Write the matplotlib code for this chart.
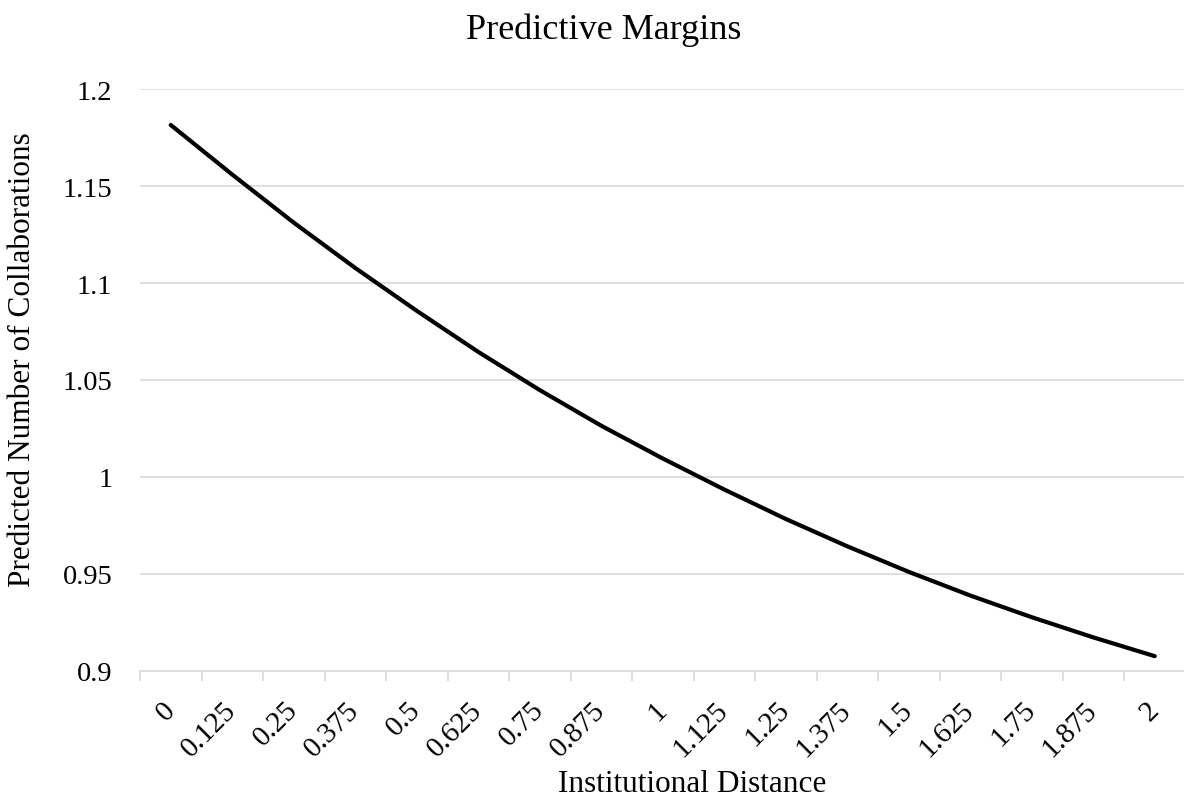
import matplotlib.pyplot as plt
from matplotlib.ticker import FixedLocator

# categories on the x axis (institutional distance)
distance_labels = ['0', '0.125', '0.25', '0.375', '0.5', '0.625', '0.75', '0.875',
                   '1', '1.125', '1.25', '1.375', '1.5', '1.625', '1.75', '1.875', '2']
# predicted number of collaborations
predicted = [1.1816, 1.1560, 1.1312, 1.1078, 1.0857, 1.0645, 1.0448, 1.0264,
             1.0095, 0.9935, 0.9783, 0.9642, 0.9510, 0.9388, 0.9276, 0.9172, 0.9075]
y_ticks = [0.9, 0.95, 1.0, 1.05, 1.1, 1.15, 1.2]

plt.rcParams['font.family'] = ['Liberation Serif', 'DejaVu Serif']

W, H = 1184, 804
fig = plt.figure(figsize=(W / 100, H / 100), dpi=100)
ax = fig.add_axes([140 / W, (H - 671.7) / H, (1185.5 - 140) / W, (671.7 - 90.3) / H])

x = list(range(len(distance_labels)))
ax.plot(x, predicted, color='black', lw=3.0, solid_capstyle='round', zorder=3)

ax.set_xlim(-0.5, len(distance_labels) - 0.5)
ax.set_ylim(0.9, 1.2)

grid_col = '#d9d9d9'
ax.set_yticks(y_ticks)
ax.set_yticklabels(['{:g}'.format(v) for v in y_ticks])
ax.yaxis.grid(True, color=grid_col, lw=1.2)
ax.set_axisbelow(True)
ax.tick_params(axis='y', length=0, pad=20, labelsize=20.5)

ax.set_xticks(x)
ax.set_xticklabels(distance_labels, rotation=45, ha='right', va='center',
                   rotation_mode='anchor')
ax.xaxis.set_minor_locator(FixedLocator([i - 0.5 for i in range(len(x) + 1)]))
ax.tick_params(axis='x', which='major', length=0, pad=25, labelsize=21)
ax.tick_params(axis='x', which='minor', length=7, width=1.2, color=grid_col)

for side in ['left', 'right', 'top']:
    ax.spines[side].set_visible(False)
ax.spines['bottom'].set_color(grid_col)
ax.spines['bottom'].set_linewidth(1.2)

fig.text(604 / W, 1 - 30 / H, 'Predictive Margins', ha='center', va='center', fontsize=26)
fig.text(692 / W, 1 - 785 / H, 'Institutional Distance', ha='center', va='center', fontsize=22.5)
fig.text(23 / W, 1 - 360 / H, 'Predicted Number of Collaborations', ha='center', va='center',
         rotation=90, fontsize=22.5)

fig.savefig('out.png', dpi=100)
